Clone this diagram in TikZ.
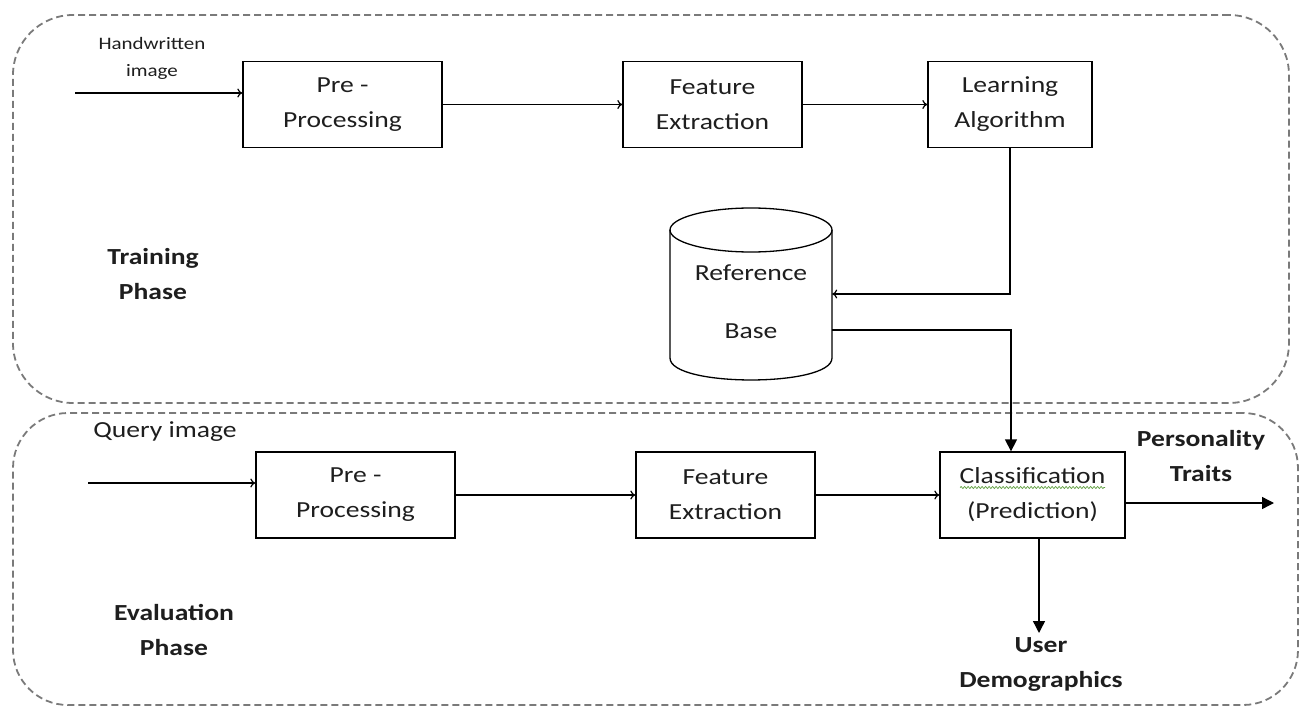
\documentclass[tikz,border=0pt]{standalone}
\usepackage{fontspec}
\setmainfont{Carlito}[FakeStretch=1.2]
\usetikzlibrary{arrows.meta,decorations.pathmorphing}
\definecolor{dashgray}{HTML}{7A7A7A}
\definecolor{txt}{HTML}{1E1E1E}
\definecolor{spell}{HTML}{5E9E3E}
\begin{document}
\begin{tikzpicture}[x=1pt,y=-1pt,
  stepbox/.style={draw=black,line width=1.3pt,minimum width=#1,minimum height=86pt,
    align=center,inner sep=0pt,text=txt,font=\fontsize{23}{35}\selectfont},
  phasebox/.style={draw=dashgray,line width=1.8pt,dash pattern=on 7pt off 4pt,inner sep=0pt},
  lbl/.style={align=center,inner sep=0pt,text=txt,font=\fontsize{23}{35}\selectfont},
  blbl/.style={align=center,inner sep=0pt,text=txt,font=\bfseries\fontsize{23}{35}\selectfont},
  flow/.style={line width=1.2pt,-{To[length=5pt,width=9pt]}},
  bigflow/.style={line width=1.4pt,-{Triangle[length=12pt,width=12pt]}}]
\useasboundingbox (0,0) rectangle (1302,709);

% phase regions
\node[phasebox,minimum width=1276pt,minimum height=388pt,rounded corners=60pt] (train) at (651,209) {};
\node[phasebox,minimum width=1285pt,minimum height=292pt,rounded corners=55pt] (eval) at (655.5,559) {};

% training phase
\node[lbl,font=\fontsize{17.5}{27}\selectfont] (hwl) at (152,58.5) {Handwritten\\image};
\coordinate (hw) at (75,93);
\node[stepbox=199pt] (pre1) at (342.5,104.5) {Pre -\\Processing};
\node[stepbox=179pt] (fe1) at (712.5,104.5) {Feature\\Extraction};
\node[stepbox=164pt] (la) at (1010,104.5) {Learning\\Algorithm};
\node[blbl] (tp) at (153,274.5) {Training\\Phase};

% reference base cylinder
\node[minimum width=162pt,minimum height=172pt,inner sep=0pt] (cyl) at (751,294) {};
\draw[line width=1.3pt,fill=white] (670,230) -- (670,358) .. controls (670,387.3) and (832,387.3) .. (832,358) -- (832,230);
\draw[line width=1.3pt] (751,230) ellipse [x radius=81, y radius=22];
\node[lbl] (ref) at (751,273) {Reference};
\node[lbl] (base) at (751,331) {Base};

\draw[flow] (hw) -- (hw -| pre1.west);
\draw[flow] (pre1.east) -- (fe1.west);
\draw[flow] (fe1.east) -- (la.west);
\draw[flow] (la.south) |- (cyl.east);

% evaluation phase
\node[lbl] (ql) at (165,432) {Query image};
\coordinate (qi) at (88,483);
\node[stepbox=199pt] (pre2) at (355.5,495) {Pre -\\Processing};
\node[stepbox=179pt] (fe2) at (725.5,495) {Feature\\Extraction};
\node[stepbox=185pt] (cls) at (1032.5,495) {Classification\\(Prediction)};
\draw[spell,line width=0.7pt,decorate,decoration={snake,amplitude=1pt,segment length=3.5pt}] (960,487.5) -- (1105,487.5);
\node[blbl] (ep) at (174,629.5) {Evaluation\\Phase};

\draw[flow] (qi) -- (qi -| pre2.west);
\draw[flow] (pre2.east) -- (fe2.west);
\draw[flow] (fe2.east) -- (cls.west);

\draw[bigflow] ([yshift=-36pt]cyl.east) -| ([xshift=-21.5pt]cls.north);

\coordinate (pout) at (1274,503);
\draw[bigflow] (cls.east |- pout) -- (pout);
\node[blbl] (ptl) at (1201,456.5) {Personality\\Traits};

\coordinate (dout) at (1039,633);
\draw[bigflow] (cls.south -| dout) -- (dout);
\node[blbl] (udl) at (1041,664) {User\\Demographics};
\end{tikzpicture}
\end{document}
